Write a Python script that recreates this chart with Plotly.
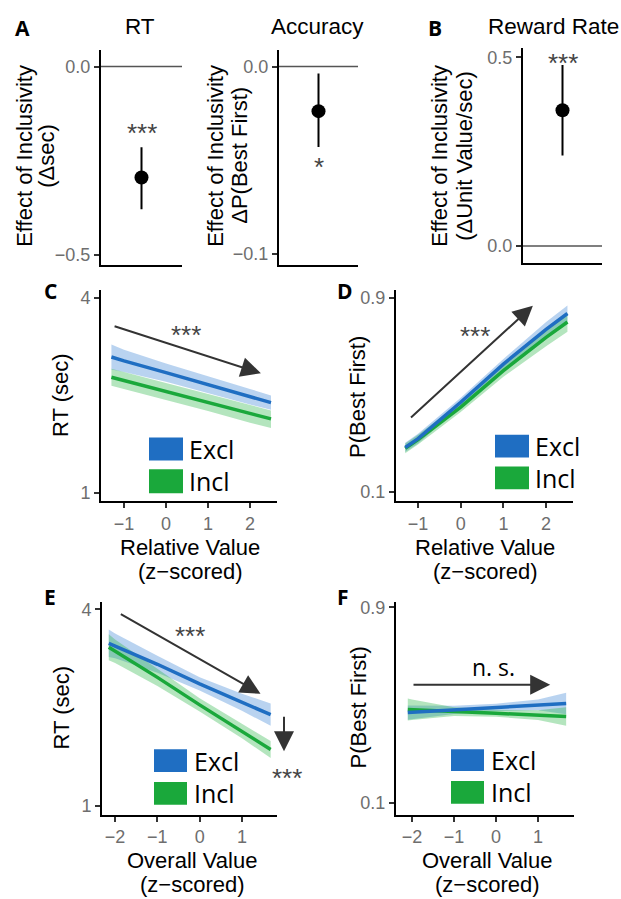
import plotly.graph_objects as go

W, H = 621, 899

# ---------------- data ----------------
effect_titles = ["RT", "Accuracy", "Reward Rate"]
effect_est = [-0.294, -0.0238, 0.36]
effect_lo = [-0.378, -0.0429, 0.24]
effect_hi = [-0.214, -0.0037, 0.48]
effect_sig = ["***", "*", "***"]

groups = ["Excl", "Incl"]

# C: RT vs relative value
rel_x = [-1.3, -1, 0, 1, 2, 2.5]
c_excl = [3.09, 3.03, 2.85, 2.67, 2.48, 2.39]
c_excl_lo = [2.90, 2.86, 2.71, 2.54, 2.36, 2.28]
c_excl_hi = [3.28, 3.20, 2.99, 2.80, 2.60, 2.50]
c_incl = [2.78, 2.73, 2.56, 2.39, 2.22, 2.14]
c_incl_lo = [2.65, 2.60, 2.43, 2.26, 2.08, 2.00]
c_incl_hi = [2.91, 2.86, 2.69, 2.52, 2.35, 2.27]

# D: P(best first) vs relative value
d_excl = [0.284, 0.32, 0.47, 0.627, 0.77, 0.835]
d_excl_lo = [0.265, 0.30, 0.452, 0.605, 0.74, 0.80]
d_excl_hi = [0.303, 0.34, 0.488, 0.648, 0.80, 0.868]
d_incl = [0.28, 0.316, 0.45, 0.60, 0.737, 0.80]
d_incl_lo = [0.26, 0.296, 0.43, 0.575, 0.70, 0.76]
d_incl_hi = [0.30, 0.336, 0.47, 0.625, 0.772, 0.838]

# E: RT vs overall value
ov_x = [-2.15, -2, -1, 0, 1, 1.68]
e_excl = [3.48, 3.44, 3.16, 2.86, 2.58, 2.39]
e_excl_lo = [3.27, 3.25, 3.03, 2.76, 2.45, 2.22]
e_excl_hi = [3.69, 3.63, 3.29, 2.96, 2.71, 2.56]
e_incl = [3.42, 3.36, 2.96, 2.54, 2.14, 1.86]
e_incl_lo = [3.22, 3.18, 2.83, 2.44, 2.03, 1.73]
e_incl_hi = [3.62, 3.54, 3.09, 2.64, 2.25, 1.99]

# F: P(best first) vs overall value
ovf_x = [-2.1, -2, -1, 0, 1, 1.67]
f_excl = [0.469, 0.470, 0.480, 0.490, 0.500, 0.506]
f_excl_lo = [0.440, 0.442, 0.463, 0.475, 0.478, 0.462]
f_excl_hi = [0.498, 0.498, 0.497, 0.505, 0.522, 0.550]
f_incl = [0.481, 0.480, 0.473, 0.466, 0.458, 0.453]
f_incl_lo = [0.436, 0.438, 0.455, 0.452, 0.438, 0.415]
f_incl_hi = [0.526, 0.522, 0.491, 0.480, 0.478, 0.491]

rel_ticks = [-1, 0, 1, 2]
ov_ticks = [-2, -1, 0, 1]
rt_ticks = [1, 4]
p_ticks = [0.1, 0.9]

# ---------------- style ----------------
ARIAL = "Liberation Sans, Arial, Helvetica, sans-serif"
MYRIAD = "Open Sans, Noto Sans, sans-serif"
BLUE = "#1f6ec2"
GREEN = "#1aa83b"
BLUE_BAND = "rgba(70,140,215,0.38)"
GREEN_BAND = "rgba(40,180,70,0.35)"
TICKFONT = dict(family=ARIAL, size=18, color="#6e6e6e")


def xdom(a, b):
    return [a / W, b / W]


def ydom(t, b):
    return [1 - b / H, 1 - t / H]


def px(x):
    return x / W


def py(y):
    return 1 - y / H


def minus(v):
    return f"{v:g}".replace("-", "\u2212")


BASE = dict(showline=True, linecolor="black", linewidth=2, showgrid=False,
            zeroline=False, fixedrange=True, tickfont=TICKFONT,
            ticks="outside", ticklen=5, tickwidth=1.5, tickcolor="#333")

CENTER = dict(xanchor="center", yanchor="middle", showarrow=False)

fig = go.Figure()
layout = dict(width=W, height=H, margin=dict(l=0, r=0, t=0, b=0),
              paper_bgcolor="white", plot_bgcolor="white", showlegend=False)

# ---------------- top row: effect estimates ----------------
top_specs = [
    ("", (101, 182), (45, 262), [-0.526, 0.045], [-0.5, 0.0], ["\u22120.5", "0.0"]),
    ("2", (279, 358), (45, 262), [-0.1058, 0.009], [-0.1, 0.0], ["\u22120.1", "0.0"]),
    ("3", (523, 602), (43, 260), [-0.045, 0.526], [0.0, 0.5], ["0.0", "0.5"]),
]
shapes = []
annotations = []
for i, (s, xd, yd, yr, tv, tt) in enumerate(top_specs):
    layout["xaxis" + s] = dict(BASE, domain=xdom(*xd), anchor="y" + s, range=[0.5, 1.5],
                               ticks="", showticklabels=False)
    layout["yaxis" + s] = dict(BASE, domain=ydom(*yd), anchor="x" + s, range=yr,
                               tickvals=tv, ticktext=tt)
    shapes.append(dict(type="line", xref=f"x{s} domain", yref="y" + s, x0=0, x1=1,
                       y0=0, y1=0, line=dict(color="#555", width=1.5), layer="below"))
    fig.add_trace(go.Scatter(
        x=[1], y=[effect_est[i]], mode="markers", xaxis="x" + s, yaxis="y" + s,
        marker=dict(color="black", size=14),
        error_y=dict(type="data", symmetric=False,
                     array=[effect_hi[i] - effect_est[i]],
                     arrayminus=[effect_est[i] - effect_lo[i]],
                     color="black", thickness=2, width=0)))

# stars in top row
star_y = [-0.158, -0.050, 0.503]
for i, s in enumerate(["", "2", "3"]):
    annotations.append(dict(CENTER, x=1, y=star_y[i], xref="x" + s, yref="y" + s,
                            text=effect_sig[i],
                            font=dict(family=ARIAL, size=26, color="#444"), yshift=-7))

# titles of top row
for txt, x in zip(effect_titles, [140, 317, 553]):
    annotations.append(dict(CENTER, x=px(x), y=py(22), xref="paper", yref="paper", text=txt,
                            font=dict(family=ARIAL, size=22.5, color="black")))

# y titles of top row (two lines each)
ytitles_top = [
    ("Effect of Inclusivity", "(\u0394sec)", 25, 47, 152),
    ("Effect of Inclusivity", "\u0394P(Best First)", 216, 240, 152),
    ("Effect of Inclusivity", "(\u0394Unit Value/sec)", 440, 465, 152),
]
for l1, l2, x1, x2, yc in ytitles_top:
    for txt, x in ((l1, x1), (l2, x2)):
        annotations.append(dict(CENTER, x=px(x), y=py(yc), xref="paper", yref="paper", text=txt,
                                textangle=-90,
                                font=dict(family=ARIAL, size=22, color="black")))

# ---------------- line panels ----------------
panels = [
    ("4", (101, 277), (287, 500), [-1.548, 2.643], [0.878, 4.122], rel_ticks, rt_ticks,
     rel_x, (c_excl, c_excl_lo, c_excl_hi), (c_incl, c_incl_lo, c_incl_hi)),
    ("5", (396, 573), (287, 500), [-1.516, 2.63], [0.0633, 0.9327], rel_ticks, p_ticks,
     rel_x, (d_excl, d_excl_lo, d_excl_hi), (d_incl, d_incl_lo, d_incl_hi)),
    ("6", (102, 277), (602, 816), [-2.31, 1.83], [0.864, 4.106], ov_ticks, rt_ticks,
     ov_x, (e_excl, e_excl_lo, e_excl_hi), (e_incl, e_incl_lo, e_incl_hi)),
    ("7", (396, 574), (602, 816), [-2.381, 1.857], [0.0513, 0.920], ov_ticks, p_ticks,
     ovf_x, (f_excl, f_excl_lo, f_excl_hi), (f_incl, f_incl_lo, f_incl_hi)),
]
for s, xd, yd, xr, yr, xt, yt, xs, ex, inc in panels:
    layout["xaxis" + s] = dict(BASE, domain=xdom(*xd), anchor="y" + s, range=xr,
                               tickvals=xt, ticktext=[minus(v) for v in xt])
    layout["yaxis" + s] = dict(BASE, domain=ydom(*yd), anchor="x" + s, range=yr,
                               tickvals=yt, ticktext=[f"{v:g}" for v in yt])
    for (mid, lo, hi), band in ((ex, BLUE_BAND), (inc, GREEN_BAND)):
        fig.add_trace(go.Scatter(x=list(xs) + list(xs)[::-1], y=list(hi) + list(lo)[::-1],
                                 fill="toself", fillcolor=band, line=dict(width=0),
                                 mode="lines", hoverinfo="skip",
                                 xaxis="x" + s, yaxis="y" + s))
    for (mid, lo, hi), col in ((inc, GREEN), (ex, BLUE)):
        fig.add_trace(go.Scatter(x=xs, y=mid, mode="lines", line=dict(color=col, width=3.5),
                                 xaxis="x" + s, yaxis="y" + s))

# x titles
for xc, ytop, l1 in ((190, 547, "Relative Value"), (485, 547, "Relative Value"),
                     (192, 862, "Overall Value"), (487, 862, "Overall Value")):
    for txt, y in ((l1, ytop), ("(z\u2212scored)", ytop + 24)):
        annotations.append(dict(CENTER, x=px(xc), y=py(y), xref="paper", yref="paper", text=txt,
                                font=dict(family=ARIAL, size=22, color="black")))
# y titles
for x, y, txt in ((61, 393, "RT (sec)"), (358, 395, "P(Best First)"),
                  (61, 708, "RT (sec)"), (358, 708, "P(Best First)")):
    annotations.append(dict(CENTER, x=px(x), y=py(y), xref="paper", yref="paper", text=txt,
                            textangle=-90,
                            font=dict(family=ARIAL, size=22, color="black")))

# panel letters
for txt, x, y in (("A", 22, 23), ("B", 435, 23), ("C", 50, 288), ("D", 345, 288),
                  ("E", 50, 597), ("F", 343, 597)):
    annotations.append(dict(CENTER, x=px(x), y=py(y), xref="paper", yref="paper",
                            text=f"<b>{txt}</b>",
                            font=dict(family=MYRIAD, size=21, color="black")))

# legends
for sq_x0, sq_x1, ex_y, in_y, tx in ((149, 183, (436, 459), (468, 492), 187),
                                     (495, 529, (433, 456), (465, 488), 533),
                                     (154, 187, (750, 773), (783, 806), 192),
                                     (451, 484, (750, 772), (782, 805), 489)):
    for (y0, y1), col, name in ((ex_y, BLUE, groups[0]), (in_y, GREEN, groups[1])):
        shapes.append(dict(type="rect", xref="paper", yref="paper", x0=px(sq_x0), x1=px(sq_x1),
                           y0=py(y1), y1=py(y0), fillcolor=col, line=dict(width=0)))
        annotations.append(dict(x=px(tx), y=py((y0 + y1) / 2), xref="paper", yref="paper",
                                text=name, xanchor="left", yanchor="middle", showarrow=False,
                                font=dict(family=MYRIAD, size=25, color="black")))

# arrows
ARW = dict(showarrow=True, arrowhead=2, arrowsize=2.0, arrowwidth=2, arrowcolor="#333", text="")
for s, (hx, hy), (tx_, ty_) in (("4", (2.26, 2.84), (-1.26, 3.57)),
                                ("5", (1.69, 0.867), (-1.2, 0.402)),
                                ("6", (1.44, 2.71), (-1.9, 3.94)),
                                ("7", (1.29, 0.583), (-2.0, 0.583))):
    annotations.append(dict(ARW, x=hx, y=hy, ax=tx_, ay=ty_, xref="x" + s, yref="y" + s,
                            axref="x" + s, ayref="y" + s))
annotations.append(dict(ARW, x=px(284), y=py(752), xref="paper", yref="paper", ax=0, ay=-36))

# significance labels in panels
STAR = dict(CENTER, font=dict(family=ARIAL, size=26, color="#444"), yshift=-7)
annotations.append(dict(STAR, x=0.48, y=3.54, xref="x4", yref="y4", text="***"))
annotations.append(dict(STAR, x=0.33, y=0.77, xref="x5", yref="y5", text="***"))
annotations.append(dict(STAR, x=-0.24, y=3.70, xref="x6", yref="y6", text="***"))
annotations.append(dict(STAR, x=px(287), y=py(772), xref="paper", yref="paper", text="***"))
annotations.append(dict(CENTER, x=-0.07, y=0.656, xref="x7", yref="y7", text="n. s.",
                        font=dict(family=MYRIAD, size=23, color="black")))

layout["shapes"] = shapes
layout["annotations"] = annotations
fig.update_layout(**layout)
fig.write_html("out.html", config={"displayModeBar": False},
               post_script="document.body.style.margin='0';")
